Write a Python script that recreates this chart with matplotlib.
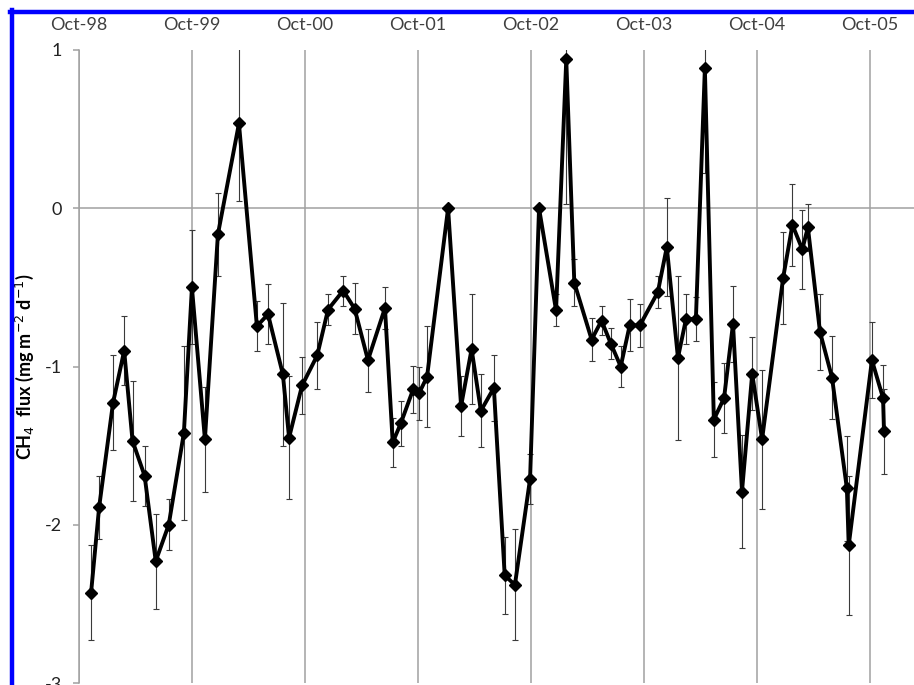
import matplotlib
matplotlib.use("Agg")
import matplotlib.pyplot as plt
import matplotlib.dates as mdates
from matplotlib.lines import Line2D
import pandas as pd

plt.rcParams['font.family'] = ['Lato', 'DejaVu Sans']
plt.rcParams['axes.unicode_minus'] = False

# sampling dates, mean CH4 flux and error (mg m-2 d-1)
dates = [
    "1998-11-09", "1998-12-05", "1999-01-19", "1999-02-24", "1999-03-23", "1999-05-01",
    "1999-06-06", "1999-07-18", "1999-09-05", "1999-10-01", "1999-11-12", "1999-12-24",
    "2000-03-01", "2000-04-28", "2000-06-03", "2000-07-21", "2000-08-10", "2000-09-21",
    "2000-11-09", "2000-12-14", "2001-02-01", "2001-03-10", "2001-04-22", "2001-06-16",
    "2001-07-11", "2001-08-06", "2001-09-15", "2001-10-04", "2001-10-30", "2002-01-06",
    "2002-02-17", "2002-03-23", "2002-04-22", "2002-06-03", "2002-07-08", "2002-08-10",
    "2002-09-28", "2002-10-27", "2002-12-21", "2003-01-23", "2003-02-18", "2003-04-15",
    "2003-05-17", "2003-06-16", "2003-07-18", "2003-08-16", "2003-09-18", "2003-11-15",
    "2003-12-14", "2004-01-19", "2004-02-14", "2004-03-17", "2004-04-15", "2004-05-14",
    "2004-06-16", "2004-07-15", "2004-08-13", "2004-09-15", "2004-10-17", "2004-12-24",
    "2005-01-23", "2005-02-24", "2005-03-14", "2005-04-22", "2005-05-31", "2005-07-18",
    "2005-07-24", "2005-10-07", "2005-11-12", "2005-11-15",
]
flux = [
    -2.43, -1.89, -1.23, -0.90, -1.47, -1.69,
    -2.23, -2.00, -1.42, -0.50, -1.46, -0.165,
    0.536, -0.745, -0.67, -1.05, -1.45, -1.12,
    -0.93, -0.64, -0.52, -0.635, -0.96, -0.63,
    -1.48, -1.36, -1.145, -1.17, -1.065, 0.0,
    -1.25, -0.89, -1.28, -1.135, -2.32, -2.38,
    -1.71, 0.0, -0.645, 0.94, -0.47, -0.83,
    -0.71, -0.855, -1.0, -0.74, -0.74, -0.53,
    -0.245, -0.945, -0.70, -0.70, 0.884, -1.335,
    -1.20, -0.73, -1.79, -1.046, -1.46, -0.44,
    -0.105, -0.26, -0.12, -0.78, -1.07, -1.77,
    -2.13, -0.96, -1.20, -1.41,
]
err = [
    0.30, 0.20, 0.30, 0.22, 0.38, 0.19,
    0.30, 0.16, 0.55, 0.36, 0.33, 0.26,
    0.49, 0.16, 0.19, 0.45, 0.39, 0.18,
    0.21, 0.10, 0.095, 0.16, 0.20, 0.13,
    0.155, 0.145, 0.15, 0.165, 0.32, 0.0,
    0.19, 0.35, 0.23, 0.21, 0.245, 0.35,
    0.16, 0.0, 0.10, 0.91, 0.15, 0.135,
    0.09, 0.10, 0.13, 0.165, 0.135, 0.10,
    0.31, 0.52, 0.16, 0.14, 0.66, 0.235,
    0.22, 0.24, 0.36, 0.23, 0.44, 0.29,
    0.26, 0.25, 0.15, 0.24, 0.26, 0.33,
    0.44, 0.24, 0.21, 0.27,
]
years = [1998, 1999, 2000, 2001, 2002, 2003, 2004, 2005]
y_ticks = [1, 0, -1, -2, -3]

x = pd.to_datetime(dates)
tick_dates = pd.to_datetime([f"{y}-10-01" for y in years])

W, H = 914, 685
fig = plt.figure(figsize=(W / 100, H / 100), dpi=100)
ax = fig.add_axes([79 / W, 2 / H, 1 - 79 / W, 633 / H])

grey = "#a0a0a0"
for d in tick_dates:
    ax.axvline(d, color=grey, lw=1.1, zorder=1)
ax.axhline(0, color=grey, lw=1.1, zorder=1)

ax.errorbar(x, flux, yerr=err, fmt="none", ecolor="#3a3a3a", elinewidth=0.8,
            capsize=2.5, capthick=0.8, zorder=2)
ax.plot(x, flux, color="black", lw=2.8, marker="D", markersize=6.5,
        markerfacecolor="black", markeredgecolor="black", zorder=3)

# x range runs past the right edge of the picture
x0 = pd.Timestamp("1998-10-01")
ax.set_xlim(x0, x0 + pd.Timedelta(days=2699))
ax.set_ylim(-3, 1)

ax.xaxis.tick_top()
ax.set_xticks(tick_dates)
ax.xaxis.set_major_formatter(mdates.DateFormatter("%b-%y"))
ax.tick_params(axis="x", length=0, pad=12.5, labelsize=13, labelcolor="#404040")
ax.set_yticks(y_ticks)
ax.tick_params(axis="y", length=4, width=1.1, color=grey, labelsize=13,
               labelcolor="#222222", pad=8)

for side in ["top", "right", "bottom"]:
    ax.spines[side].set_visible(False)
ax.spines["left"].set_color(grey)
ax.spines["left"].set_linewidth(1.1)

ax.set_ylabel("CH$_4$  flux (mg m$^{-2}$ d$^{-1}$)", fontsize=13,
              fontweight="bold")
ax.yaxis.set_label_coords(-43 / (W - 79), 0.5)

# blue frame at the top and left edges
fig.add_artist(Line2D([11.5 / W, 11.5 / W], [0, 1 - 10 / H], color="#0000ff",
                      lw=3.2, transform=fig.transFigure, zorder=10))
fig.add_artist(Line2D([9.5 / W, 1], [1 - 12 / H, 1 - 12 / H], color="#0000ff",
                      lw=3.2, transform=fig.transFigure, zorder=10))

fig.savefig("out.png", dpi=100, facecolor="white")
